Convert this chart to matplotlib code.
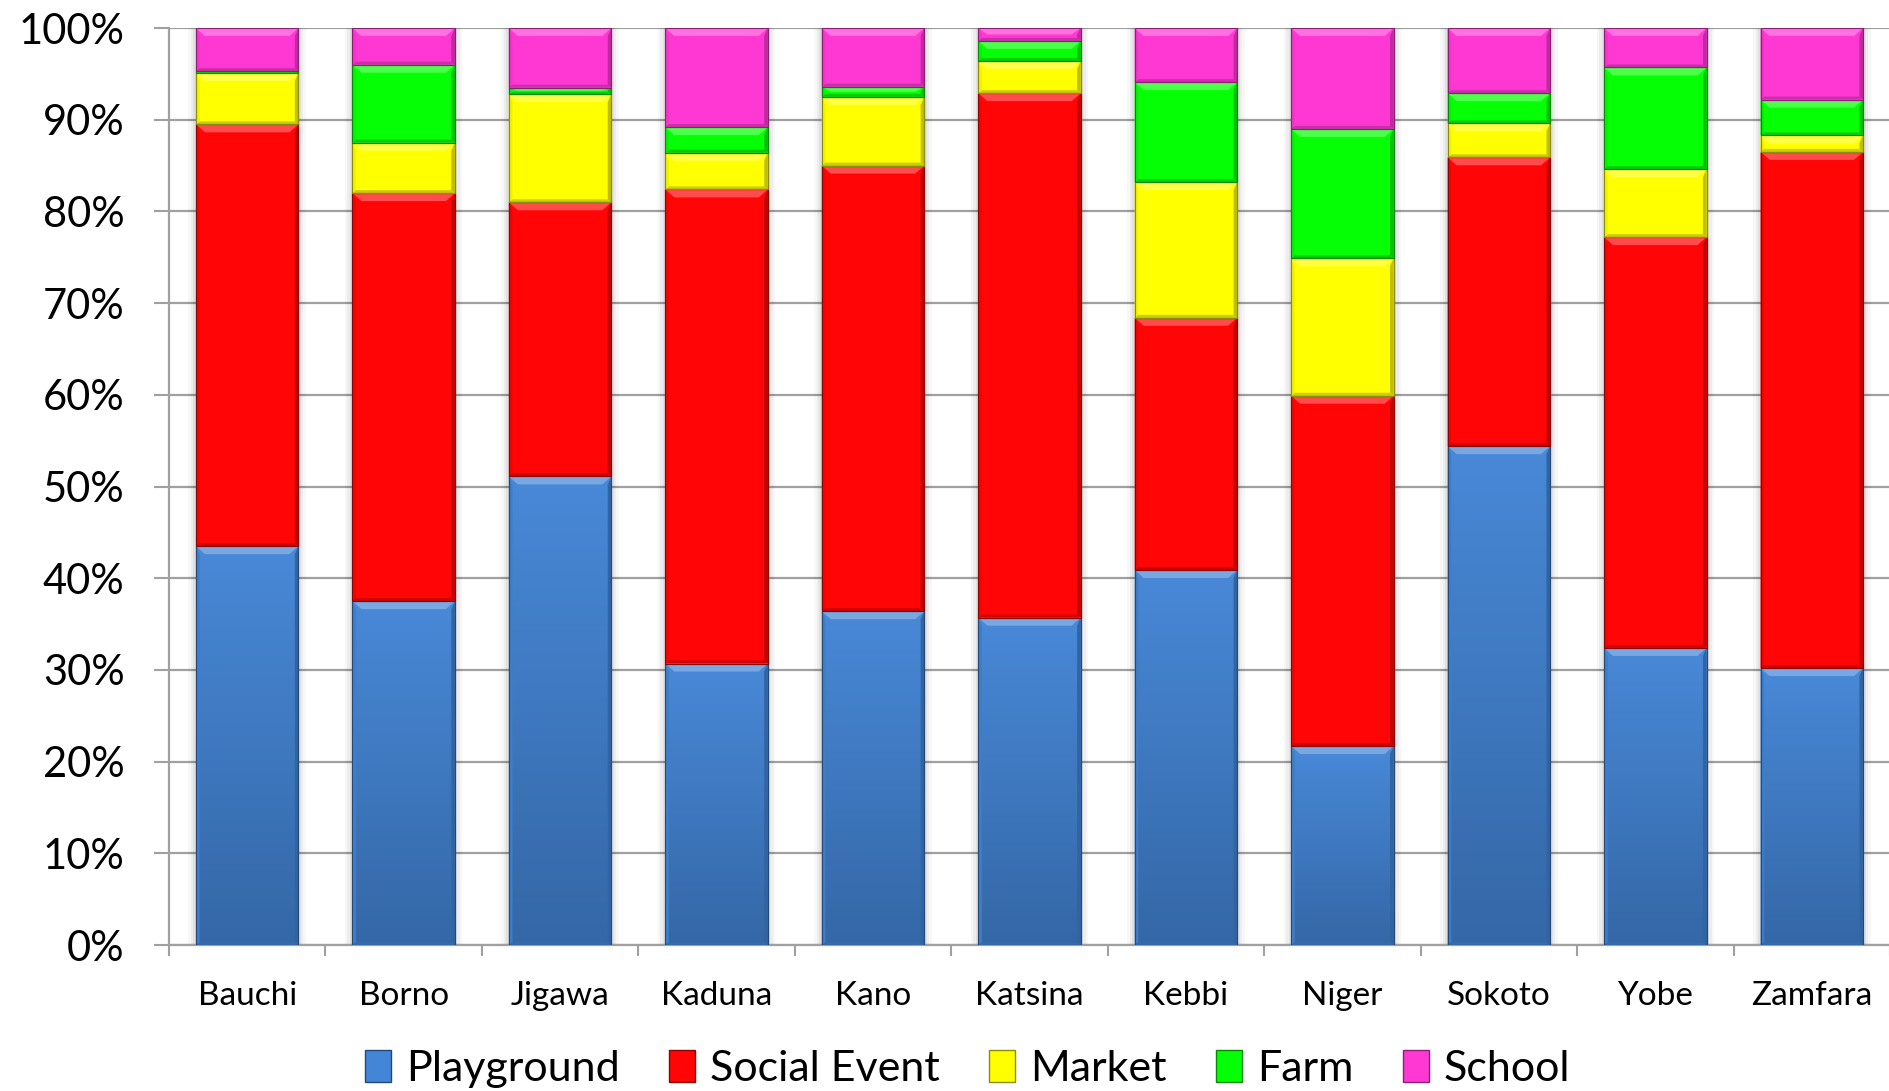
import numpy as np
import matplotlib
matplotlib.use("Agg")
import matplotlib.pyplot as plt
from matplotlib.patches import Patch, Polygon, Rectangle
from matplotlib.colors import to_rgb
from matplotlib.ticker import FixedLocator, PercentFormatter

plt.rcParams['font.family'] = ['Lato', 'DejaVu Sans']

states = ["Bauchi", "Borno", "Jigawa", "Kaduna", "Kano", "Katsina",
          "Kebbi", "Niger", "Sokoto", "Yobe", "Zamfara"]

playground   = [43.5, 37.5, 51.1, 30.7, 36.4, 35.7, 40.9, 21.7, 54.4, 32.4, 30.2]
social_event = [46.0, 44.5, 29.9, 51.7, 48.6, 57.2, 27.5, 38.2, 31.5, 44.8, 56.3]
market       = [5.6, 5.5, 11.8, 4.0, 7.5, 3.5, 14.8, 15.0, 3.7, 7.4, 1.8]
farm         = [0.2, 8.5, 0.7, 2.8, 1.1, 2.2, 10.9, 14.1, 3.3, 11.1, 3.9]
school       = [4.7, 4.0, 6.5, 10.8, 6.4, 1.4, 5.9, 11.0, 7.1, 4.3, 7.8]

series_names = ["Playground", "Social Event", "Market", "Farm", "School"]
series_vals = [playground, social_event, market, farm, school]
colors = ["#4385d6", "#ff0505", "#ffff00", "#05ff05", "#ff38d4"]

fig = plt.figure(figsize=(18.9, 10.91), dpi=100)
ax = fig.add_axes([0.0894, 0.1338, 0.9106, 0.8405])

x = np.arange(len(states))
width = 0.655


def shade(c, f):
    r, g, b = to_rgb(c)
    if f >= 0:
        return (r + (1 - r) * f, g + (1 - g) * f, b + (1 - b) * f)
    f = -f
    return (r * (1 - f), g * (1 - f), b * (1 - f))


# data units per pixel, used for the bevel sizes
px_x = len(states) / (0.9106 * 1890)
px_y = 100 / (0.8405 * 1091)

bottom = np.zeros(len(states))
for name, vals, col in zip(series_names, series_vals, colors):
    vals = np.asarray(vals, dtype=float)
    bars = ax.bar(x, vals, width, bottom=bottom, color=col,
                  edgecolor=shade(col, -0.45), linewidth=0.8, zorder=3)
    for rect in bars:
        x0, y0 = rect.get_x(), rect.get_y()
        w, h = rect.get_width(), rect.get_height()
        x1, y1 = x0 + w, y0 + h
        if h <= 0:
            continue
        bx = 9 * px_x
        by = min(8 * px_y, h / 2)
        bb = min(3 * px_y, h / 3)
        # vertical gradient on the blue base segment: lighter at top
        if name == "Playground":
            grad = np.linspace(0, 1, 64)
            top_c = np.array(shade(col, 0.03))
            bot_c = np.array(shade(col, -0.22))
            img = top_c[None, :] * (1 - grad)[:, None] + bot_c[None, :] * grad[:, None]
            img = img.reshape(64, 1, 3)
            ax.imshow(img, extent=(x0, x1, y0, y1), aspect='auto', origin='upper',
                      zorder=3.1, interpolation='bilinear')
        # bevel: light top band, thin dark bottom band, shaded sides
        top = Polygon([(x0, y1), (x1, y1), (x1 - bx, y1 - by), (x0 + bx, y1 - by)],
                      closed=True, facecolor=shade(col, 0.28), edgecolor='none', zorder=3.2)
        bot = Polygon([(x0, y0), (x1, y0), (x1 - bx * 0.4, y0 + bb), (x0 + bx * 0.4, y0 + bb)],
                      closed=True, facecolor=shade(col, -0.2), edgecolor='none', zorder=3.2)
        left = Polygon([(x0, y0), (x0 + bx * 0.4, y0 + bb), (x0 + bx * 0.4, y1 - by), (x0, y1)],
                       closed=True, facecolor=shade(col, -0.06), edgecolor='none', zorder=3.2)
        right = Polygon([(x1, y0), (x1 - bx * 0.4, y0 + bb), (x1 - bx * 0.4, y1 - by), (x1, y1)],
                        closed=True, facecolor=shade(col, -0.25), edgecolor='none', zorder=3.2)
        for p in (top, bot, left, right):
            ax.add_patch(p)
        ax.add_patch(Rectangle((x0, y0), w, h, facecolor='none',
                               edgecolor=shade(col, -0.45), linewidth=0.8, zorder=3.3))
    bottom += vals

# soft shadow behind each full bar
for xi in x:
    for k, a in enumerate([0.05, 0.04, 0.03]):
        pad = (k + 1) * 2.5 * px_x
        ax.add_patch(Rectangle((xi - width / 2 - pad, 0), width + 2 * pad, 100,
                               facecolor='black', edgecolor='none', alpha=a, zorder=2))

ax.set_xlim(-0.5, len(states) - 0.5)
ax.set_ylim(0, 100)

ax.yaxis.set_major_locator(FixedLocator(np.arange(0, 101, 10)))
ax.yaxis.set_major_formatter(PercentFormatter(decimals=0))
ax.grid(axis='y', color='#a0a0a0', linewidth=1.6, zorder=0)
ax.set_axisbelow(True)

ax.set_xticks(x)
ax.set_xticklabels(states, fontsize=24)
ax.xaxis.set_minor_locator(FixedLocator(np.arange(-0.5, len(states), 1)))
ax.tick_params(axis='x', which='major', length=0, pad=26)
ax.tick_params(axis='x', which='minor', length=8, width=1.5, color='#a0a0a0')
ax.tick_params(axis='y', length=11, width=1.5, color='#a0a0a0', pad=21, labelsize=30)

for s in ('top', 'right'):
    ax.spines[s].set_visible(False)
for s in ('left', 'bottom'):
    ax.spines[s].set_color('#a0a0a0')
    ax.spines[s].set_linewidth(1.6)

handles = [Patch(facecolor=c, edgecolor=shade(c, -0.45), linewidth=1.0) for c in colors]
fig.legend(handles, series_names, loc='center', bbox_to_anchor=(0.512, 0.02),
           ncol=5, frameon=False, fontsize=31, handlelength=0.6, handleheight=0.75,
           handletextpad=0.35, columnspacing=1.15)

fig.savefig("out.png", dpi=100, facecolor='white')
